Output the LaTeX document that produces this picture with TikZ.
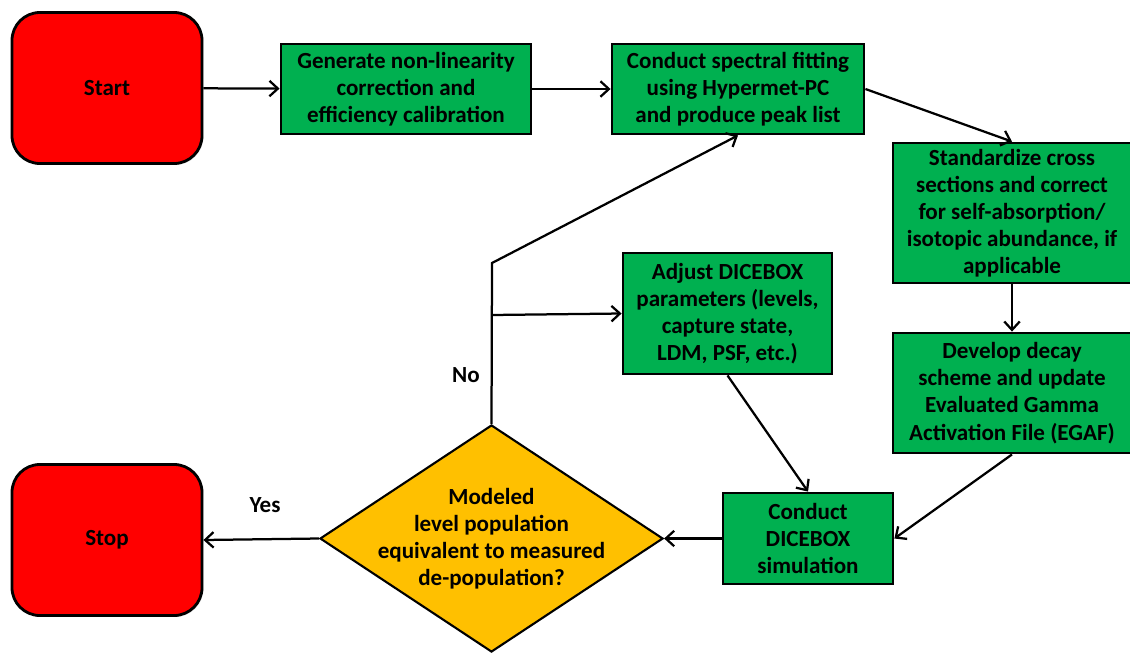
\documentclass[tikz,border=0pt]{standalone}
\usepackage{fontspec}
\setmainfont{Carlito}
\usetikzlibrary{arrows.meta, shapes.geometric, shadows}
\definecolor{boxGreen}{HTML}{00B050}
\definecolor{termRed}{HTML}{FF0000}
\definecolor{askYellow}{HTML}{FFC000}
\newcommand{\flowfont}{\fontsize{16.4}{19.3}\selectfont\bfseries}

\tikzset{
    stepbox/.style={draw=black, line width=2pt, fill=boxGreen, align=center, font=\flowfont, inner sep=1pt,
        drop shadow={shadow xshift=1pt, shadow yshift=-1pt, opacity=0.25}},
    terminal/.style={draw=black, line width=2pt, fill=termRed, rounded corners=0.7cm, font=\flowfont,
        minimum width=4.75cm, minimum height=3.775cm,
        drop shadow={shadow xshift=1pt, shadow yshift=-1pt, opacity=0.25}},
    decision/.style={diamond, draw=black, line width=1.5pt, fill=askYellow, inner sep=0pt,
        minimum width=8.575cm, minimum height=5.675cm},
    flow/.style={line width=1.6pt, -{Straight Barb[length=6pt, width=11pt]}},
    tag/.style={font=\flowfont}
}

\begin{document}
\begin{tikzpicture}[x=0.025cm, y=-0.025cm]
    \useasboundingbox (0,0) rectangle (1130,652);

    % top row
    \node[terminal] (start) at (107,88) {Start};
    \node[stepbox, minimum width=6.25cm, minimum height=2.25cm] (calib) at (406,89)
        {Generate non-linearity\\correction and\\efficiency calibration};
    \node[stepbox, minimum width=6.3cm, minimum height=2.25cm] (fit) at (738,89)
        {Conduct spectral fitting\\using Hypermet-PC\\and produce peak list};

    % right column
    \node[stepbox, minimum width=5.95cm, minimum height=3.5cm] (norm) at (1012,213)
        {Standardize cross\\sections and correct\\for self-absorption/\\isotopic abundance, if\\applicable};
    \node[stepbox, minimum width=5.95cm, minimum height=3cm] (decay) at (1012,393)
        {Develop decay\\scheme and update\\Evaluated Gamma\\Activation File (EGAF)};

    % middle
    \node[stepbox, minimum width=5.225cm, minimum height=3.025cm] (adjust) at (727.5,313.5)
        {Adjust DICEBOX\\parameters (levels,\\capture state,\\LDM, PSF, etc.)};
    \node[stepbox, minimum width=4.25cm, minimum height=2.275cm] (sim) at (808,538.5)
        {Conduct\\DICEBOX\\simulation};

    % bottom row
    \node[decision] (check) at (491.5,538.5) {};
    \node[align=center, font=\flowfont] (checktext) at (check)
        {Modeled\\level population\\equivalent to measured\\de-population?};
    \node[terminal] (stop) at (107,540) {Stop};

    % connectors
    \draw[flow] (start) -- (calib);
    \draw[flow] (calib) -- (fit);
    \draw[flow] (fit.east) -- (norm.north);
    \draw[flow] (norm) -- (decay);
    \draw[flow] (decay.south) -- (sim.east);
    \draw[flow] (adjust.south) -- (sim.north);
    \draw[flow] (sim) -- (check.east);
    \draw[flow] (check.west) -- (stop.east);
    \node[tag] (yes) at (265,505) {Yes};

    % loop back
    \coordinate (bend) at (492,263);
    \coordinate (fork) at (492,315);
    \draw[flow] (check.north) -- (bend) -- (fit.south);
    \draw[flow] (fork) -- (adjust.west);
    \node[tag] (no) at (466,375) {No};
\end{tikzpicture}
\end{document}
